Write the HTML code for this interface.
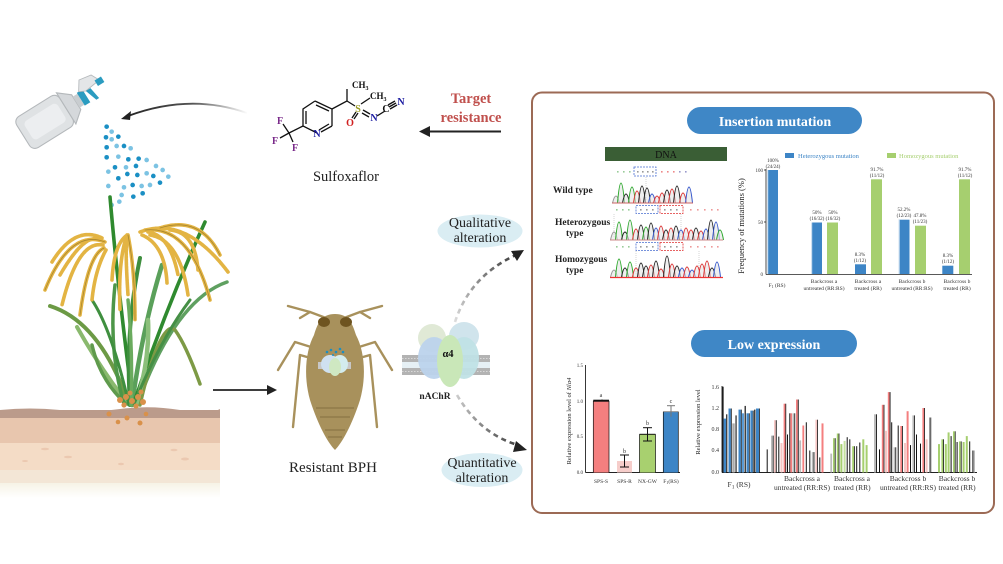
<!DOCTYPE html>
<html><head><meta charset="utf-8">
<style>
html,body{margin:0;padding:0;background:#fff;}
body{width:1003px;height:564px;overflow:hidden;}
svg{display:block;}
text{font-family:"Liberation Serif",serif;}
</style></head>
<body>
<svg width="1003" height="564" viewBox="0 0 1003 564" xmlns="http://www.w3.org/2000/svg">
<defs>
<linearGradient id="topArrow" gradientUnits="userSpaceOnUse" x1="125" y1="0" x2="248" y2="0">
<stop offset="0" stop-color="#222"/><stop offset="0.55" stop-color="#555"/><stop offset="1" stop-color="#fff"/>
</linearGradient>
<linearGradient id="dashUp" gradientUnits="userSpaceOnUse" x1="455" y1="322" x2="522" y2="252">
<stop offset="0" stop-color="#ddd"/><stop offset="1" stop-color="#333"/>
</linearGradient>
<linearGradient id="dashDn" gradientUnits="userSpaceOnUse" x1="457" y1="395" x2="525" y2="448">
<stop offset="0" stop-color="#ccc"/><stop offset="1" stop-color="#333"/>
</linearGradient>
<linearGradient id="soilFade" x1="0" y1="0" x2="0" y2="1">
<stop offset="0" stop-color="#f6f3e6"/><stop offset="1" stop-color="#fff"/>
</linearGradient>
</defs>

<!-- ================= LEFT: sprayer ================= -->
<g transform="translate(46,121) rotate(-32) scale(1.08)">
  <rect x="-25" y="-17" width="47" height="34" rx="6" fill="#dfe2e4" stroke="#b4b8bb" stroke-width="1"/>
  <rect x="-19" y="-10" width="36" height="20" rx="4" fill="#eceef0"/>
  <path d="M22,-17 L33,-8 L33,8 L22,17 Z" fill="#d5d8db" stroke="#b4b8bb" stroke-width="1"/>
  <rect x="33" y="-6" width="5" height="12" fill="#c9cdd0"/>
  <rect x="38" y="-7" width="6" height="14" fill="#2b9cc0"/>
  <path d="M40,-7 L46,-16 L58,-14 L62,-6 L46,-4 Z" fill="#e4e6e8" stroke="#b4b8bb" stroke-width="0.8"/>
  <rect x="58" y="-8" width="7" height="6" fill="#2b9cc0"/>
  <path d="M46,-4 L50,8 L53,8 L51,-4 Z" fill="#2b9cc0"/>
</g>
<!-- spray dots -->
<g transform="translate(0,60) scale(0.3333)">
  <g fill="#1a8fc4">
    <circle cx="320" cy="200" r="7"/><circle cx="318" cy="232" r="7"/><circle cx="355" cy="230" r="7"/>
    <circle cx="320" cy="262" r="7"/><circle cx="372" cy="258" r="7"/><circle cx="320" cy="292" r="7"/>
    <circle cx="385" cy="298" r="7"/><circle cx="345" cy="322" r="7"/><circle cx="408" cy="318" r="7"/>
    <circle cx="355" cy="355" r="7"/><circle cx="412" cy="345" r="7"/><circle cx="460" cy="348" r="7"/>
    <circle cx="398" cy="375" r="7"/><circle cx="480" cy="368" r="7"/><circle cx="400" cy="410" r="7"/>
    <circle cx="428" cy="400" r="7"/><circle cx="416" cy="296" r="7"/><circle cx="382" cy="342" r="7"/>
  </g>
  <g fill="#7cc3e3">
    <circle cx="335" cy="215" r="7"/><circle cx="335" cy="238" r="7"/><circle cx="350" cy="258" r="7"/>
    <circle cx="392" cy="265" r="7"/><circle cx="355" cy="290" r="7"/><circle cx="440" cy="300" r="7"/>
    <circle cx="378" cy="322" r="7"/><circle cx="468" cy="318" r="7"/><circle cx="488" cy="330" r="7"/>
    <circle cx="325" cy="335" r="7"/><circle cx="440" cy="340" r="7"/><circle cx="505" cy="350" r="7"/>
    <circle cx="325" cy="378" r="7"/><circle cx="372" cy="382" r="7"/><circle cx="425" cy="378" r="7"/>
    <circle cx="450" cy="375" r="7"/><circle cx="365" cy="405" r="7"/><circle cx="335" cy="435" r="7"/>
    <circle cx="358" cy="425" r="7"/>
  </g>
</g>
<!-- curved arrow to sprayer -->
<path d="M247,113 Q190,93 128,116" fill="none" stroke="url(#topArrow)" stroke-width="1.8"/>
<path d="M121,119 L131,111 L130,120 Z" fill="#222"/>

<!-- ================= Sulfoxaflor structure ================= -->
<g stroke="#111" stroke-width="1.3" fill="none">
  <path d="M315,101 L332,109 L332,126 M317,133 L303,126 L303,109 L315,101"/>
  <path d="M316,105 L329,111 M329,124 L319,130 M306,111 L306,124"/>
  <path d="M332,126 L321,132"/>
  <path d="M303,126 L289,133"/>
  <path d="M332,109 L347,101 L347,89"/>
  <path d="M347,101 L355,106"/>
  <path d="M361,104 L370,98"/>
  <path d="M356,112 L352,118 M358,113 L354,119"/>
  <path d="M363,110 L370,114 M362,113 L369,117"/>
  <path d="M377,116 L385,111"/>
  <path d="M389,107 L396,103 M388,105 L395,101 M390,109 L397,105"/>
  <path d="M289,133 L283,124 M289,133 L280,138 M289,133 L293,142"/>
</g>
<g font-size="10" font-weight="bold">
  <text x="317" y="137" fill="#1a1aa0" text-anchor="middle" font-family="Liberation Sans, sans-serif">N</text>
  <text x="358" y="112" fill="#999a22" text-anchor="middle" font-family="Liberation Sans, sans-serif">S</text>
  <text x="350" y="126" fill="#d02020" text-anchor="middle" font-family="Liberation Sans, sans-serif">O</text>
  <text x="374" y="121" fill="#1a1aa0" text-anchor="middle" font-family="Liberation Sans, sans-serif">N</text>
  <text x="386" y="112" fill="#111" text-anchor="middle" font-family="Liberation Sans, sans-serif">C</text>
  <text x="401" y="105" fill="#1a1aa0" text-anchor="middle" font-family="Liberation Sans, sans-serif">N</text>
  <text x="280" y="124" fill="#7a2a8a" text-anchor="middle" font-family="Liberation Sans, sans-serif">F</text>
  <text x="275" y="144" fill="#7a2a8a" text-anchor="middle" font-family="Liberation Sans, sans-serif">F</text>
  <text x="295" y="151" fill="#7a2a8a" text-anchor="middle" font-family="Liberation Sans, sans-serif">F</text>
  <text x="352" y="88" fill="#111" font-family="Liberation Sans, sans-serif" font-size="9">CH<tspan font-size="6" dy="2">3</tspan></text>
  <text x="370" y="99" fill="#111" font-family="Liberation Sans, sans-serif" font-size="9">CH<tspan font-size="6" dy="2">3</tspan></text>
</g>
<text x="346" y="181" font-size="14.5" fill="#222" text-anchor="middle">Sulfoxaflor</text>

<!-- Target resistance -->
<text x="471" y="103" font-size="14.5" font-weight="bold" fill="#c0504d" text-anchor="middle">Target</text>
<text x="471" y="122" font-size="14.5" font-weight="bold" fill="#c0504d" text-anchor="middle">resistance</text>
<line x1="501" y1="131.5" x2="428" y2="131.5" stroke="#222" stroke-width="2"/>
<path d="M419,131.5 L430,126 L430,137 Z" fill="#222"/>

<!-- ================= Rice plant & soil ================= -->
<rect x="0" y="410" width="220" height="9" fill="#bb9b8b"/>
<path d="M0,410 Q30,407 60,410 T120,409 T180,410 T220,409 L220,412 L0,412 Z" fill="#bb9b8b"/>
<rect x="0" y="418" width="220" height="25" fill="#e8c6ae"/>
<rect x="0" y="443" width="220" height="27" fill="#f4dcc6"/>
<rect x="0" y="470" width="220" height="13" fill="#f3e6d6"/>
<rect x="0" y="483" width="220" height="15" fill="url(#soilFade)"/>
<g fill="#ebc8b0">
  <ellipse cx="45" cy="449" rx="4" ry="1.2"/><ellipse cx="68" cy="457" rx="4" ry="1.2"/>
  <ellipse cx="174" cy="450" rx="3.5" ry="1.3"/><ellipse cx="185" cy="459" rx="4" ry="1.5"/>
  <ellipse cx="121" cy="464" rx="3" ry="1.2"/><ellipse cx="25" cy="461" rx="3" ry="1"/>
</g>
<!-- leaves -->
<g fill="none" stroke-linecap="round">
  <path d="M128,402 Q100,322 50,306" stroke="#6c9a45" stroke-width="4"/>
  <path d="M128,404 Q100,368 77,327" stroke="#8ab96e" stroke-width="4"/>
  <path d="M126,404 Q100,380 92,345" stroke="#5f9a4c" stroke-width="3.5"/>
  <path d="M124,404 Q108,350 115,285" stroke="#4d9648" stroke-width="3.5"/>
  <path d="M133,405 Q118,290 110,197" stroke="#2f8a2f" stroke-width="3.6"/>
  <path d="M130,405 Q125,330 140,258" stroke="#3e8e3e" stroke-width="4"/>
  <path d="M132,405 Q142,330 162,265" stroke="#5aa05a" stroke-width="4.5"/>
  <path d="M135,400 Q165,310 205,222" stroke="#2f8a2f" stroke-width="3.6"/>
  <path d="M137,405 Q175,300 227,282" stroke="#5fa060" stroke-width="3.5"/>
  <path d="M140,405 C150,360 165,320 175,330 Q186,345 200,384" stroke="#7d9a45" stroke-width="3.5"/>
  <path d="M136,405 Q150,360 148,320" stroke="#8bbf7a" stroke-width="4.5"/>
  <path d="M129,405 Q112,330 92,300" stroke="#3f8f3f" stroke-width="3"/>
  <path d="M134,404 Q160,340 190,300" stroke="#458f45" stroke-width="3"/>
  <path d="M131,405 Q133,350 128,300" stroke="#6aab5e" stroke-width="3.5"/>
</g>
<!-- panicles -->
<g fill="none" stroke-linecap="round">
  <g stroke="#e3b443" stroke-width="3.6" stroke-dasharray="2.5 0.8">
    <path d="M105,242 Q70,228 45,290"/>
    <path d="M103,245 Q78,240 62,305"/>
    <path d="M104,248 Q88,255 80,315"/>
    <path d="M100,240 Q85,232 60,275"/>
    <path d="M106,250 Q95,270 92,300"/>
    <path d="M102,238 Q75,225 52,262"/>
    <path d="M127,235 Q118,260 120,310"/>
    <path d="M128,235 Q135,270 135,320"/>
    <path d="M127,236 Q125,250 128,295"/>
    <path d="M126,236 Q114,245 112,280"/>
    <path d="M140,232 Q185,215 228,272"/>
    <path d="M145,230 Q190,225 210,300"/>
    <path d="M150,235 Q180,240 188,295"/>
    <path d="M142,235 Q165,245 167,283"/>
    <path d="M160,228 Q200,215 220,255"/>
    <path d="M170,230 Q195,232 198,270"/>
    <path d="M148,232 Q170,235 178,275"/>
  </g>
  <g stroke="#a98730" stroke-width="0.8">
    <path d="M105,242 Q70,228 45,290"/>
    <path d="M128,235 Q135,270 135,320"/>
    <path d="M145,230 Q190,225 210,300"/>
    <path d="M104,248 Q88,255 80,315"/>
    <path d="M160,228 Q200,215 220,255"/>
  </g>
</g>
<!-- seeds at base -->
<g fill="#d9914a">
  <circle cx="120" cy="400" r="3"/><circle cx="126" cy="397" r="3"/><circle cx="132" cy="401" r="3"/>
  <circle cx="138" cy="397" r="3"/><circle cx="143" cy="402" r="3"/><circle cx="124" cy="405" r="2.6"/>
  <circle cx="136" cy="406" r="2.6"/><circle cx="130" cy="393" r="2.5"/><circle cx="141" cy="392" r="2.5"/>
  <circle cx="109" cy="414" r="2.5"/><circle cx="127" cy="418" r="2.5"/><circle cx="140" cy="423" r="2.5"/>
  <circle cx="146" cy="414" r="2.3"/><circle cx="118" cy="422" r="2.3"/>
</g>

<!-- arrow plant -> bug -->
<line x1="213" y1="390" x2="268" y2="390" stroke="#222" stroke-width="1.8"/>
<path d="M277,390 L267,385 L267,395 Z" fill="#222"/>

<!-- ================= BPH insect ================= -->
<g stroke="#a8915c" stroke-width="2.4" fill="none" stroke-linecap="round" stroke-linejoin="round">
  <path d="M326,318 L310,312 L288,306 M310,312 L300,318"/>
  <path d="M344,318 L360,312 L382,306 M360,312 L370,318"/>
  <path d="M311,347 L295,342 L278,370"/>
  <path d="M307,357 L300,355 L293,427"/>
  <path d="M359,347 L375,342 L392,370"/>
  <path d="M363,357 L370,355 L377,427"/>
</g>
<path d="M335,314 C322,314 318,322 314,335 C306,350 303,375 310,400 C318,425 328,443 335,450 C342,443 352,425 360,400 C367,375 364,350 356,335 C352,322 348,314 335,314 Z" fill="#a8915c"/>
<ellipse cx="324" cy="322" rx="6" ry="5" fill="#6e5420"/>
<ellipse cx="346" cy="322" rx="6" ry="5" fill="#6e5420"/>
<g stroke="#857040" stroke-width="1">
  <line x1="316" y1="408" x2="354" y2="408"/><line x1="320" y1="417" x2="350" y2="417"/>
  <line x1="325" y1="430" x2="345" y2="430"/><line x1="328" y1="437" x2="342" y2="437"/>
</g>
<!-- small receptor on bug -->
<rect x="318" y="362" width="33" height="7" fill="#c7c7c7"/>
<ellipse cx="330" cy="364" rx="9" ry="9" fill="#cfe0f0"/>
<ellipse cx="340" cy="364" rx="8" ry="9" fill="#d3ecee"/>
<ellipse cx="335" cy="367" rx="6" ry="9" fill="#cfe8c2"/>
<g fill="#1a8fc4"><circle cx="327" cy="352" r="1.3"/><circle cx="331" cy="350" r="1.3"/><circle cx="336" cy="352" r="1.3"/><circle cx="340" cy="349" r="1.3"/><circle cx="343" cy="352" r="1.3"/><circle cx="333" cy="355" r="1"/></g>
<text x="333" y="472" font-size="15" fill="#222" text-anchor="middle">Resistant BPH</text>

<!-- ================= nAChR ================= -->
<rect x="402" y="355" width="88" height="7" fill="#b3b3b3"/>
<rect x="402" y="362" width="88" height="6" fill="#e6f0f5"/>
<rect x="402" y="368" width="88" height="7" fill="#b3b3b3"/>
<line x1="402" y1="358.5" x2="490" y2="358.5" stroke="#d8d8d8" stroke-width="1" stroke-dasharray="1.5 1.5"/>
<line x1="402" y1="371.5" x2="490" y2="371.5" stroke="#d8d8d8" stroke-width="1" stroke-dasharray="1.5 1.5"/>
<ellipse cx="432" cy="338" rx="14" ry="14" fill="#e0e9d6"/>
<ellipse cx="464" cy="336" rx="15" ry="14" fill="#d0e4ec"/>
<ellipse cx="434" cy="358" rx="16" ry="21" fill="#bcd3ec" fill-opacity="0.95"/>
<ellipse cx="464" cy="358" rx="15" ry="21" fill="#c0e1e6" fill-opacity="0.95"/>
<ellipse cx="450" cy="361" rx="13" ry="26" fill="#c9e7b8"/>
<text x="448" y="357" font-size="10.5" font-weight="bold" fill="#111" text-anchor="middle">α4</text>
<text x="435" y="399" font-size="9.5" font-weight="bold" fill="#222" text-anchor="middle">nAChR</text>

<!-- dashed arrows -->
<path d="M455,322 Q470,276 516,255" fill="none" stroke="url(#dashUp)" stroke-width="2.6" stroke-dasharray="5 4"/>
<path d="M524,250 L511,251 L517,261 Z" fill="#222"/>
<path d="M457,395 Q480,434 518,445" fill="none" stroke="url(#dashDn)" stroke-width="2.6" stroke-dasharray="5 4"/>
<path d="M527,450 L516,441 L513,452 Z" fill="#222"/>

<!-- alteration ellipses -->
<ellipse cx="480" cy="231" rx="42.5" ry="16.5" fill="#daedf3"/>
<text x="480" y="227" font-size="14" fill="#222" text-anchor="middle">Qualitative</text>
<text x="480" y="242" font-size="14" fill="#222" text-anchor="middle">alteration</text>
<ellipse cx="482" cy="470" rx="40.5" ry="17" fill="#daedf3"/>
<text x="482" y="467" font-size="14" fill="#222" text-anchor="middle">Quantitative</text>
<text x="482" y="482" font-size="14" fill="#222" text-anchor="middle">alteration</text>

<!-- ================= RIGHT BOX ================= -->
<rect x="532" y="92.5" width="462" height="420.5" rx="10" fill="#fff" stroke="#9c6a55" stroke-width="2"/>

<!-- pills -->
<rect x="687" y="107" width="175" height="27" rx="13.5" fill="#3f87c6"/>
<text x="775" y="126" font-size="14" font-weight="bold" fill="#fff" text-anchor="middle">Insertion mutation</text>
<rect x="691" y="330" width="166" height="27" rx="13.5" fill="#3f87c6"/>
<text x="774" y="349" font-size="14" font-weight="bold" fill="#fff" text-anchor="middle">Low expression</text>

<!-- DNA panel -->
<rect x="605" y="147" width="122" height="14" fill="#3a5e35"/>
<text x="666" y="158" font-size="10" fill="#111" text-anchor="middle">DNA</text>
<g font-size="9.5" font-weight="bold" fill="#222">
  <text x="553" y="193">Wild type</text>
  <text x="555" y="225">Heterozygous</text>
  <text x="566" y="236">type</text>
  <text x="555" y="262">Homozygous</text>
  <text x="566" y="273">type</text>
</g>
<!-- seq dot rows -->
<g>
  <g fill="#9c9"><rect x="617" y="171" width="1.6" height="1.6"/><rect x="623" y="171" width="1.6" height="1.6"/><rect x="629" y="171" width="1.6" height="1.6"/></g>
  <g fill="#999"><rect x="637" y="171" width="1.6" height="1.6"/><rect x="642" y="171" width="1.6" height="1.6"/><rect x="647" y="171" width="1.6" height="1.6"/><rect x="652" y="171" width="1.6" height="1.6"/></g>
  <g fill="#e88"><rect x="661" y="171" width="1.6" height="1.6"/><rect x="667" y="171" width="1.6" height="1.6"/><rect x="673" y="171" width="1.6" height="1.6"/></g>
  <g fill="#99c"><rect x="679" y="171" width="1.6" height="1.6"/><rect x="685" y="171" width="1.6" height="1.6"/></g>
  <rect x="634" y="167" width="22" height="9" fill="none" stroke="#4a6fd0" stroke-width="0.8" stroke-dasharray="2 1"/>

  <g fill="#9c9"><rect x="616" y="209" width="1.6" height="1.6"/><rect x="622" y="209" width="1.6" height="1.6"/><rect x="628" y="209" width="1.6" height="1.6"/></g>
  <g fill="#999"><rect x="640" y="209" width="1.6" height="1.6"/><rect x="646" y="209" width="1.6" height="1.6"/><rect x="652" y="209" width="1.6" height="1.6"/><rect x="664" y="209" width="1.6" height="1.6"/><rect x="670" y="209" width="1.6" height="1.6"/><rect x="676" y="209" width="1.6" height="1.6"/></g>
  <g fill="#e99"><rect x="690" y="209" width="1.6" height="1.6"/><rect x="697" y="209" width="1.6" height="1.6"/><rect x="704" y="209" width="1.6" height="1.6"/><rect x="711" y="209" width="1.6" height="1.6"/><rect x="717" y="209" width="1.6" height="1.6"/></g>
  <rect x="636" y="205.5" width="22" height="8" fill="none" stroke="#4a6fd0" stroke-width="0.8" stroke-dasharray="2 1"/>
  <rect x="660" y="205.5" width="23" height="8" fill="none" stroke="#e03030" stroke-width="0.8" stroke-dasharray="2 1"/>

  <g fill="#9c9"><rect x="616" y="246" width="1.6" height="1.6"/><rect x="622" y="246" width="1.6" height="1.6"/><rect x="628" y="246" width="1.6" height="1.6"/></g>
  <g fill="#999"><rect x="640" y="246" width="1.6" height="1.6"/><rect x="646" y="246" width="1.6" height="1.6"/><rect x="652" y="246" width="1.6" height="1.6"/><rect x="664" y="246" width="1.6" height="1.6"/><rect x="670" y="246" width="1.6" height="1.6"/><rect x="676" y="246" width="1.6" height="1.6"/></g>
  <g fill="#e99"><rect x="690" y="246" width="1.6" height="1.6"/><rect x="697" y="246" width="1.6" height="1.6"/><rect x="704" y="246" width="1.6" height="1.6"/><rect x="711" y="246" width="1.6" height="1.6"/><rect x="717" y="246" width="1.6" height="1.6"/></g>
  <rect x="636" y="242.5" width="22" height="8" fill="none" stroke="#4a6fd0" stroke-width="0.8" stroke-dasharray="2 1"/>
  <rect x="660" y="242.5" width="23" height="8" fill="none" stroke="#e03030" stroke-width="0.8" stroke-dasharray="2 1"/>
</g>
<!-- guide dotted lines -->
<g stroke="#bbb" stroke-width="0.6" stroke-dasharray="1 1">
  <line x1="646" y1="177" x2="646" y2="200"/>
  <line x1="614" y1="214" x2="614" y2="238"/><line x1="681" y1="214" x2="681" y2="238"/>
  <line x1="636" y1="251" x2="636" y2="275"/><line x1="699" y1="251" x2="699" y2="275"/>
</g>
<!-- chromatograms -->
<g fill="#e4e4e4" fill-opacity="0.6" stroke-width="1">
  <path d="M612.5,203 Q616,189 619.5,203" stroke="#999"/>
  <path d="M617.5,203 Q621,163 624.5,203" stroke="#2aa82a"/>
  <path d="M622.5,203 Q626,185 629.5,203" stroke="#222"/>
  <path d="M628.5,203 Q632,171 635.5,203" stroke="#2aa82a"/>
  <path d="M633.5,203 Q637,179 640.5,203" stroke="#d33"/>
  <path d="M638.5,203 Q642,169 645.5,203" stroke="#222"/>
  <path d="M643.5,203 Q647,173 650.5,203" stroke="#222"/>
  <path d="M648.5,203 Q652,185 655.5,203" stroke="#3355cc"/>
  <path d="M653.5,203 Q657,189 660.5,203" stroke="#d33"/>
  <path d="M658.5,203 Q662,183 665.5,203" stroke="#d33"/>
  <path d="M663.5,203 Q667,177 670.5,203" stroke="#222"/>
  <path d="M668.5,203 Q672,175 675.5,203" stroke="#d33"/>
  <path d="M673.5,203 Q677,169 680.5,203" stroke="#222"/>
  <path d="M679.5,203 Q683,183 686.5,203" stroke="#d33"/>
  <path d="M685.5,203 Q689,171 692.5,203" stroke="#3355cc"/>

  <path d="M610.5,240 Q614,224 617.5,240" stroke="#999"/>
  <path d="M615.5,240 Q619,204 622.5,240" stroke="#2aa82a"/>
  <path d="M621.5,240 Q625,224 628.5,240" stroke="#222"/>
  <path d="M626.5,240 Q630,200 633.5,240" stroke="#2aa82a"/>
  <path d="M632.5,240 Q636,218 639.5,240" stroke="#d33"/>
  <path d="M637.5,240 Q641,210 644.5,240" stroke="#222"/>
  <path d="M642.5,240 Q646,214 649.5,240" stroke="#2aa82a"/>
  <path d="M647.5,240 Q651,206 654.5,240" stroke="#222"/>
  <path d="M652.5,240 Q656,216 659.5,240" stroke="#3355cc"/>
  <path d="M657.5,240 Q661,212 664.5,240" stroke="#d33"/>
  <path d="M662.5,240 Q666,220 669.5,240" stroke="#222"/>
  <path d="M667.5,240 Q671,216 674.5,240" stroke="#d33"/>
  <path d="M672.5,240 Q676,212 679.5,240" stroke="#222"/>
  <path d="M677.5,240 Q681,220 684.5,240" stroke="#3355cc"/>
  <path d="M682.5,240 Q686,216 689.5,240" stroke="#d33"/>
  <path d="M687.5,240 Q691,220 694.5,240" stroke="#d33"/>
  <path d="M692.5,240 Q696,216 699.5,240" stroke="#222"/>
  <path d="M697.5,240 Q701,222 704.5,240" stroke="#d33"/>
  <path d="M702.5,240 Q706,218 709.5,240" stroke="#3355cc"/>
  <path d="M707.5,240 Q711,200 714.5,240" stroke="#222"/>
  <path d="M712.5,240 Q716,204 719.5,240" stroke="#3355cc"/>
  <path d="M716.5,240 Q720,220 723.5,240" stroke="#2aa82a"/>

  <path d="M610.5,277 Q614,263 617.5,277" stroke="#999"/>
  <path d="M615.5,277 Q619,241 622.5,277" stroke="#2aa82a"/>
  <path d="M621.5,277 Q625,259 628.5,277" stroke="#222"/>
  <path d="M626.5,277 Q630,247 633.5,277" stroke="#2aa82a"/>
  <path d="M632.5,277 Q636,259 639.5,277" stroke="#d33"/>
  <path d="M637.5,277 Q641,249 644.5,277" stroke="#222"/>
  <path d="M642.5,277 Q646,255 649.5,277" stroke="#222"/>
  <path d="M647.5,277 Q651,253 654.5,277" stroke="#d33"/>
  <path d="M652.5,277 Q656,245 659.5,277" stroke="#222"/>
  <path d="M657.5,277 Q661,261 664.5,277" stroke="#d33"/>
  <path d="M663.5,277 Q667,235 670.5,277" stroke="#222"/>
  <path d="M668.5,277 Q672,251 675.5,277" stroke="#d33"/>
  <path d="M673.5,277 Q677,255 680.5,277" stroke="#222"/>
  <path d="M678.5,277 Q682,259 685.5,277" stroke="#3355cc"/>
  <path d="M683.5,277 Q687,257 690.5,277" stroke="#d33"/>
  <path d="M688.5,277 Q692,263 695.5,277" stroke="#3355cc"/>
  <path d="M693.5,277 Q697,255 700.5,277" stroke="#d33"/>
  <path d="M698.5,277 Q702,251 705.5,277" stroke="#d33"/>
  <path d="M703.5,277 Q707,245 710.5,277" stroke="#d33"/>
  <path d="M708.5,277 Q712,259 715.5,277" stroke="#222"/>
  <path d="M713.5,277 Q717,247 720.5,277" stroke="#3355cc"/>
</g>
<line x1="612" y1="203" x2="693" y2="203" stroke="#c66" stroke-width="1"/>
<line x1="610" y1="240" x2="723" y2="240" stroke="#c88" stroke-width="1"/>
<line x1="610" y1="277.5" x2="723" y2="277.5" stroke="#e33" stroke-width="1.2"/>

<!-- Chart 1: mutation frequency -->
<rect x="785" y="153" width="9" height="5" fill="#3d85c6"/>
<text x="798" y="158" font-size="6.5" fill="#3d85c6">Heterozygous mutation</text>
<rect x="887" y="153" width="9" height="5" fill="#a6cf6f"/>
<text x="899" y="158" font-size="6.5" fill="#a6cf6f">Homozygous mutation</text>
<text transform="translate(744,226) rotate(-90)" font-size="8.5" fill="#222" text-anchor="middle">Frequency of mutations (%)</text>
<g font-size="5" fill="#333" text-anchor="end">
  <text x="763" y="172">100</text><text x="763" y="224">50</text><text x="763" y="276">0</text>
</g>
<g stroke="#222" stroke-width="0.8">
  <line x1="766" y1="169" x2="766" y2="274.5"/>
  <line x1="766" y1="274.5" x2="972" y2="274.5"/>
  <line x1="764" y1="170" x2="766" y2="170"/><line x1="764" y1="222" x2="766" y2="222"/>
</g>
<g fill="#3d85c6">
  <rect x="767" y="170" width="11" height="104"/>
  <rect x="811" y="222.5" width="11" height="51.5"/>
  <rect x="855" y="264.3" width="11" height="9.7"/>
  <rect x="898.5" y="219.7" width="11" height="54.3"/>
  <rect x="942.3" y="265.7" width="11" height="8.3"/>
</g>
<g fill="#a6cf6f">
  <rect x="827" y="222.5" width="11" height="51.5"/>
  <rect x="871" y="179.3" width="11" height="94.7"/>
  <rect x="915" y="225.7" width="11" height="48.3"/>
  <rect x="959" y="179.3" width="11" height="94.7"/>
</g>
<g fill="#cfe0f0"><rect x="767" y="170" width="1.2" height="104"/><rect x="811" y="222.5" width="1.2" height="51.5"/><rect x="898.5" y="219.7" width="1.2" height="54.3"/></g>
<g font-size="5" fill="#333" text-anchor="middle">
  <text x="773" y="162">100%</text><text x="773" y="168">(24/24)</text>
  <text x="817" y="214">50%</text><text x="817" y="220">(16/32)</text>
  <text x="833" y="214">50%</text><text x="833" y="220">(16/32)</text>
  <text x="860" y="256">8.3%</text><text x="860" y="262">(1/12)</text>
  <text x="877" y="171">91.7%</text><text x="877" y="177">(11/12)</text>
  <text x="904" y="211">52.2%</text><text x="904" y="217">(12/23)</text>
  <text x="920" y="217">47.8%</text><text x="920" y="223">(11/23)</text>
  <text x="948" y="257">8.3%</text><text x="948" y="263">(1/12)</text>
  <text x="965" y="171">91.7%</text><text x="965" y="177">(11/12)</text>
</g>
<g font-size="5.5" fill="#333" text-anchor="middle">
  <text x="777" y="287">F<tspan font-size="4" dy="1">1</tspan><tspan dy="-1"> (RS)</tspan></text>
  <text x="824" y="283">Backcross a</text><text x="824" y="290">untreated (RR:RS)</text>
  <text x="868" y="283">Backcross a</text><text x="868" y="290">treated (RR)</text>
  <text x="912" y="283">Backcross b</text><text x="912" y="290">untreated (RR:RS)</text>
  <text x="957" y="283">Backcross b</text><text x="957" y="290">treated (RR)</text>
</g>

<!-- Chart 2: relative expression -->
<text transform="translate(571,421) rotate(-90)" font-size="6.5" fill="#222" text-anchor="middle">Relative expression level of <tspan font-style="italic">Nlα4</tspan></text>
<g font-size="5" fill="#333" text-anchor="end">
  <text x="583" y="367">1.5</text><text x="583" y="403">1.0</text><text x="583" y="438">0.5</text><text x="583" y="474">0.0</text>
</g>
<g stroke="#222" stroke-width="0.9">
  <line x1="585.5" y1="365" x2="585.5" y2="472.5"/>
  <line x1="585.5" y1="472.5" x2="680" y2="472.5"/>
</g>
<rect x="593.3" y="400.7" width="15.7" height="71.8" fill="#f47f7f"/>
<rect x="617" y="461" width="15" height="11.5" fill="#f6cdca"/>
<rect x="639.5" y="434.3" width="16" height="38.2" fill="#a8d06f"/>
<rect x="663.3" y="411.7" width="15" height="60.8" fill="#3d85c6"/>
<g stroke="#111" stroke-width="1">
  <line x1="593.3" y1="400.7" x2="609" y2="400.7" stroke-width="2"/>
  <line x1="602" y1="399.5" x2="602" y2="401.5"/>
  <line x1="624.5" y1="455" x2="624.5" y2="467"/><line x1="620" y1="455" x2="629" y2="455"/><line x1="620" y1="467" x2="629" y2="467"/>
  <line x1="639.5" y1="434.3" x2="655.5" y2="434.3"/>
  <line x1="647.5" y1="427.7" x2="647.5" y2="441"/><line x1="643" y1="427.7" x2="652" y2="427.7"/><line x1="643" y1="441" x2="652" y2="441"/>
  <line x1="663.3" y1="411.7" x2="678.3" y2="411.7" stroke="#888"/>
  <line x1="671" y1="405.7" x2="671" y2="416.7" stroke="#777"/><line x1="667" y1="405.7" x2="675" y2="405.7" stroke="#777"/>
</g>
<g stroke="#111" stroke-width="0.7">
  <line x1="593.3" y1="400.7" x2="593.3" y2="472.5"/><line x1="609" y1="400.7" x2="609" y2="472.5"/>
  <line x1="639.5" y1="434.3" x2="639.5" y2="472.5"/><line x1="655.5" y1="434.3" x2="655.5" y2="472.5"/>
  <line x1="663.3" y1="411.7" x2="663.3" y2="472.5"/><line x1="678.3" y1="411.7" x2="678.3" y2="472.5"/>
</g>
<g font-size="6" fill="#333" text-anchor="middle">
  <text x="601" y="397">a</text><text x="624.5" y="453">b</text><text x="647.5" y="425">b</text><text x="671" y="403">c</text>
</g>
<g font-size="5.5" fill="#333" text-anchor="middle">
  <text x="601" y="483">SPS-S</text><text x="624.5" y="483">SPS-R</text><text x="647.5" y="483">NX-GW</text><text x="671" y="483">F<tspan font-size="4" dy="1">1</tspan><tspan dy="-1">(RS)</tspan></text>
</g>

<!-- Chart 3: relative expression per individual -->
<text transform="translate(700,422) rotate(-90)" font-size="6.5" fill="#222" text-anchor="middle">Relative expression level</text>
<g font-size="6" fill="#333" text-anchor="end">
  <text x="719" y="389">1.6</text><text x="719" y="410">1.2</text><text x="719" y="431">0.8</text><text x="719" y="452">0.4</text><text x="719" y="474">0.0</text>
</g>
<g stroke="#222" stroke-width="0.9">
  <line x1="722" y1="386" x2="722" y2="472.5"/>
  <line x1="722" y1="472.5" x2="977" y2="472.5"/>
</g>
<!-- group 1 -->
<g>
  <rect x="722.3" y="386.7" width="1.3" height="85.8" fill="#111"/>
  <rect x="723.6" y="418.6" width="2.4" height="53.9" fill="#3d85c6"/>
  <rect x="726.2" y="414.3" width="1.1" height="58.2" fill="#111"/>
  <rect x="728.5" y="408.5" width="2.4" height="64" fill="#3d85c6"/><rect x="730.9" y="408.5" width="0.8" height="64" fill="#111"/>
  <rect x="732.3" y="423.4" width="2.4" height="49.1" fill="#aaa"/>
  <rect x="735.5" y="415.4" width="1.1" height="57.1" fill="#111"/>
  <rect x="738.5" y="409.6" width="2.4" height="62.9" fill="#3d85c6"/><rect x="740.9" y="409.6" width="0.8" height="62.9" fill="#111"/>
  <rect x="741.8" y="413.3" width="2.2" height="59.2" fill="#5b9bd5"/>
  <rect x="744.6" y="405.9" width="1.2" height="66.6" fill="#111"/>
  <rect x="746.5" y="413.3" width="2.4" height="59.2" fill="#3d85c6"/><rect x="748.9" y="413.3" width="0.8" height="59.2" fill="#111"/>
  <rect x="750.4" y="410.6" width="2.4" height="61.9" fill="#3d85c6"/><rect x="752.8" y="410.6" width="0.8" height="61.9" fill="#111"/>
  <rect x="754.2" y="409.6" width="1.2" height="62.9" fill="#111"/>
  <rect x="756" y="408.5" width="3" height="64" fill="#3d85c6"/><rect x="759" y="408.5" width="0.8" height="64" fill="#111"/>
</g>
<!-- group 2 -->
<g>
  <rect x="766.7" y="449.4" width="1" height="23.1" fill="#111"/>
  <rect x="771" y="435.6" width="1.8" height="36.9" fill="#bbb"/><rect x="772.8" y="435.6" width="0.8" height="36.9" fill="#111"/>
  <rect x="774" y="420.2" width="1.8" height="52.3" fill="#f6c6c4"/><rect x="775.8" y="420.2" width="0.9" height="52.3" fill="#111"/>
  <rect x="778.3" y="436.6" width="1" height="35.9" fill="#111"/>
  <rect x="780.5" y="443" width="2" height="29.5" fill="#f6c6c4"/>
  <rect x="783.6" y="403.7" width="1.8" height="68.8" fill="#f47f7f"/><rect x="785.4" y="403.7" width="0.8" height="68.8" fill="#111"/>
  <rect x="787" y="434.5" width="1" height="38" fill="#111"/>
  <rect x="789.3" y="413.3" width="1" height="59.2" fill="#111"/><rect x="790.3" y="413.3" width="1.8" height="59.2" fill="#f47f7f"/>
  <rect x="792.6" y="413.3" width="1.8" height="59.2" fill="#bbb"/><rect x="794.4" y="413.3" width="0.8" height="59.2" fill="#111"/>
  <rect x="796" y="399.5" width="1.8" height="73" fill="#f47f7f"/><rect x="797.8" y="399.5" width="0.9" height="73" fill="#111"/>
  <rect x="799.3" y="440.4" width="1.8" height="32.1" fill="#bbb"/>
  <rect x="802.4" y="425.5" width="1.8" height="47" fill="#f47f7f"/>
  <rect x="805.8" y="422.3" width="1" height="50.2" fill="#111"/>
  <rect x="809.3" y="450.5" width="1" height="22" fill="#111"/>
  <rect x="811.8" y="452.1" width="1.8" height="20.4" fill="#bbb"/><rect x="813.6" y="452.1" width="0.8" height="20.4" fill="#111"/>
  <rect x="815.4" y="419.7" width="1.8" height="52.8" fill="#f6c6c4"/><rect x="817.2" y="419.7" width="0.8" height="52.8" fill="#111"/>
  <rect x="819.3" y="457.4" width="1" height="15.1" fill="#111"/>
  <rect x="821.5" y="423.4" width="2" height="49.1" fill="#f47f7f"/>
</g>
<!-- group 3 -->
<g>
  <rect x="830.3" y="453.6" width="1.8" height="18.9" fill="#bbb"/>
  <rect x="833" y="438.2" width="1.8" height="34.3" fill="#a6cf6f"/><rect x="834.8" y="438.2" width="0.8" height="34.3" fill="#111"/>
  <rect x="836.8" y="433.5" width="1.8" height="39" fill="#a6cf6f"/><rect x="838.6" y="433.5" width="0.8" height="39" fill="#111"/>
  <rect x="840.4" y="444.1" width="2" height="28.4" fill="#a6cf6f"/>
  <rect x="843.6" y="440.9" width="2" height="31.6" fill="#c4e0a0"/>
  <rect x="846.7" y="437.2" width="1" height="35.3" fill="#111"/>
  <rect x="849.3" y="439.3" width="1" height="33.2" fill="#111"/>
  <rect x="852.2" y="446.2" width="1.8" height="26.3" fill="#a6cf6f"/><rect x="854" y="446.2" width="0.8" height="26.3" fill="#111"/>
  <rect x="856.2" y="446.2" width="1" height="26.3" fill="#111"/>
  <rect x="859.3" y="442.5" width="1" height="30" fill="#111"/>
  <rect x="862.3" y="439.3" width="2" height="33.2" fill="#a6cf6f"/>
  <rect x="865.6" y="445.1" width="2" height="27.4" fill="#a6cf6f"/>
</g>
<!-- group 4 -->
<g>
  <rect x="874" y="414.3" width="2" height="58.2" fill="#bbb"/><rect x="876" y="414.3" width="0.9" height="58.2" fill="#111"/>
  <rect x="879" y="449.4" width="1" height="23.1" fill="#111"/>
  <rect x="881.8" y="404.8" width="1.8" height="67.7" fill="#f47f7f"/><rect x="883.6" y="404.8" width="0.8" height="67.7" fill="#111"/>
  <rect x="885" y="430.8" width="2" height="41.7" fill="#f6c6c4"/>
  <rect x="887.8" y="392.1" width="1.8" height="80.4" fill="#f47f7f"/><rect x="889.6" y="392.1" width="0.9" height="80.4" fill="#111"/>
  <rect x="891.2" y="422.3" width="1" height="50.2" fill="#111"/>
  <rect x="893.6" y="447.3" width="1.8" height="25.2" fill="#bbb"/><rect x="895.4" y="447.3" width="0.8" height="25.2" fill="#111"/>
  <rect x="897.7" y="425.5" width="1" height="47" fill="#111"/>
  <rect x="900.3" y="426" width="1.8" height="46.5" fill="#f47f7f"/><rect x="902.1" y="426" width="0.8" height="46.5" fill="#111"/>
  <rect x="904" y="443" width="2" height="29.5" fill="#f6c6c4"/>
  <rect x="906.6" y="411.2" width="2" height="61.3" fill="#f47f7f"/>
  <rect x="910" y="445.1" width="1" height="27.4" fill="#111"/>
  <rect x="912.4" y="415.4" width="1.8" height="57.1" fill="#bbb"/><rect x="914.2" y="415.4" width="0.8" height="57.1" fill="#111"/>
  <rect x="916" y="434.5" width="1" height="38" fill="#111"/>
  <rect x="920" y="443.6" width="1" height="28.9" fill="#111"/>
  <rect x="922.4" y="408" width="1.8" height="64.5" fill="#f47f7f"/><rect x="924.2" y="408" width="0.8" height="64.5" fill="#111"/>
  <rect x="925.6" y="439.3" width="2" height="33.2" fill="#f6c6c4"/>
  <rect x="929" y="417.5" width="1.6" height="55" fill="#999"/><rect x="930.6" y="417.5" width="0.6" height="55" fill="#111"/>
</g>
<!-- group 5 -->
<g>
  <rect x="938" y="444.1" width="2" height="28.4" fill="#a6cf6f"/>
  <rect x="941.4" y="439.3" width="1.8" height="33.2" fill="#a6cf6f"/><rect x="943.2" y="439.3" width="0.8" height="33.2" fill="#111"/>
  <rect x="944.8" y="444.1" width="2" height="28.4" fill="#a6cf6f"/>
  <rect x="947.6" y="432.4" width="2" height="40.1" fill="#a6cf6f"/>
  <rect x="950.6" y="436.1" width="1" height="36.4" fill="#111"/>
  <rect x="953" y="431.3" width="1.8" height="41.2" fill="#a6cf6f"/><rect x="954.8" y="431.3" width="0.8" height="41.2" fill="#111"/>
  <rect x="956.6" y="442" width="1" height="30.5" fill="#111"/>
  <rect x="959" y="441.4" width="1.8" height="31.1" fill="#a6cf6f"/><rect x="960.8" y="441.4" width="0.8" height="31.1" fill="#111"/>
  <rect x="962.6" y="442" width="2" height="30.5" fill="#a6cf6f"/>
  <rect x="965.8" y="436.1" width="2" height="36.4" fill="#a6cf6f"/>
  <rect x="969.2" y="441.4" width="1" height="31.1" fill="#111"/>
  <rect x="972.4" y="450.5" width="1" height="22" fill="#111"/><rect x="973.4" y="450.5" width="1.6" height="22" fill="#bbb"/>
</g>
<g font-size="7.5" fill="#333" text-anchor="middle">
  <text x="739" y="487">F<tspan font-size="5.5" dy="1.5">1</tspan><tspan dy="-1.5"> (RS)</tspan></text>
  <text x="802" y="481">Backcross a</text><text x="802" y="490">untreated (RR:RS)</text>
  <text x="852" y="481">Backcross a</text><text x="852" y="490">treated (RR)</text>
  <text x="908" y="481">Backcross b</text><text x="908" y="490">untreated (RR:RS)</text>
  <text x="957" y="481">Backcross b</text><text x="957" y="490">treated (RR)</text>
</g>
</svg>
</body></html>
